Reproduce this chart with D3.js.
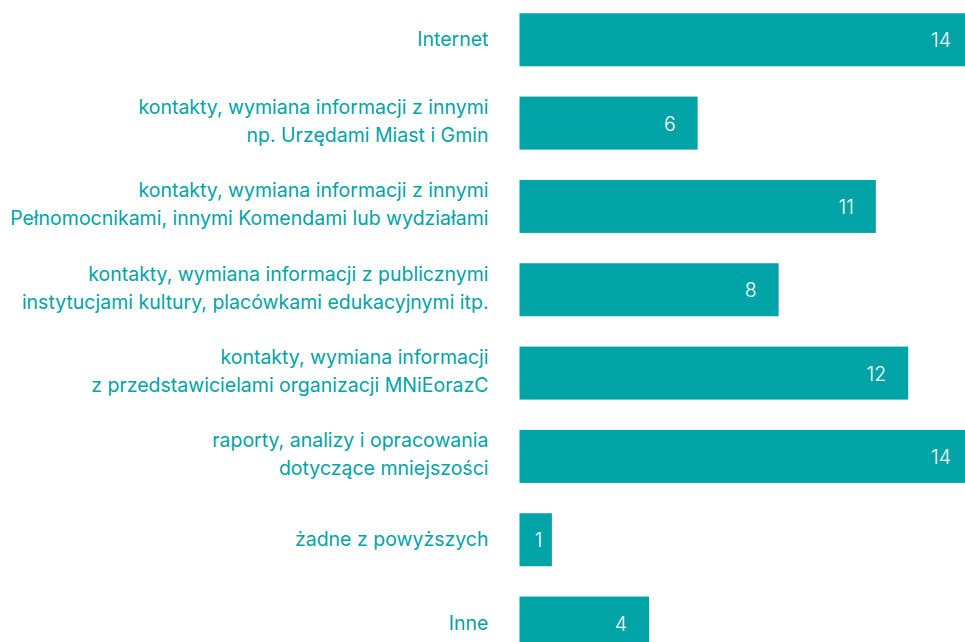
<!DOCTYPE html>
<html>
<head>
<meta charset="utf-8">
<script src="https://cdn.jsdelivr.net/npm/d3@7"></script>
<style>
  html, body { margin: 0; padding: 0; background: #fff; overflow: hidden; }
  svg { display: block; }
</style>
</head>
<body>
<div id="chart"></div>
<script>
// data
var categories = [
  ["Internet"],
  ["kontakty, wymiana informacji z innymi", "np. Urzędami Miast i Gmin"],
  ["kontakty, wymiana informacji z innymi", "Pełnomocnikami, innymi Komendami lub wydziałami"],
  ["kontakty, wymiana informacji z publicznymi", "instytucjami kultury, placówkami edukacyjnymi itp."],
  ["kontakty, wymiana informacji", "z przedstawicielami organizacji MNiEorazC"],
  ["raporty, analizy i opracowania", "dotyczące mniejszości"],
  ["żadne z powyższych"],
  ["Inne"]
];
var values = [14, 5.5, 11, 8, 12, 14, 1, 4];

var width = 965, height = 642;
var teal = "#00a3a6";
var font = "Inter, 'Noto Sans', sans-serif";

var svg = d3.select("#chart").append("svg")
  .attr("width", width)
  .attr("height", height);

var x = d3.scaleLinear().domain([0, 14]).range([519.5, 973]);
var y = d3.scaleBand()
  .domain(d3.range(values.length))
  .range([-1.9, -1.9 + 83.33 * values.length])
  .paddingInner(0.364)
  .paddingOuter(0.182);

var rows = svg.selectAll(".row").data(values)
  .enter().append("g")
  .classed("row", true);

rows.append("rect")
  .attr("x", x(0))
  .attr("y", function(d, i) { return y(i); })
  .attr("width", function(d) { return x(d) - x(0); })
  .attr("height", y.bandwidth())
  .attr("fill", teal);

// value labels inside bars
rows.append("text")
  .text(function(d) { return Math.round(d); })
  .attr("x", function(d) {
    var w = x(d) - x(0);
    return w < 50 ? x(0) + w / 2 + 3 : x(d) - 22;
  })
  .attr("text-anchor", function(d) { return x(d) - x(0) < 50 ? "middle" : "end"; })
  .attr("y", function(d, i) { return y(i) + y.bandwidth() / 2 + 7.5; })
  .attr("fill", "#fff")
  .style("font-family", font)
  .style("font-size", "19.5px")
  .style("font-weight", 300);

// category labels
var labels = svg.selectAll(".cat").data(categories)
  .enter().append("text")
  .classed("cat", true)
  .attr("text-anchor", "end")
  .attr("fill", teal)
  .style("font-family", font)
  .style("font-size", "19.5px")
  .attr("y", function(d, i) { return y(i) + y.bandwidth() / 2; });

labels.selectAll("tspan").data(function(d) { return d; })
  .enter().append("tspan")
  .attr("x", 488.5)
  .attr("dy", function(t, j, nodes) {
    if (nodes.length === 1) return 6.5;
    return j === 0 ? -9 : 28;
  })
  .text(function(t) { return t; });
</script>
</body>
</html>
